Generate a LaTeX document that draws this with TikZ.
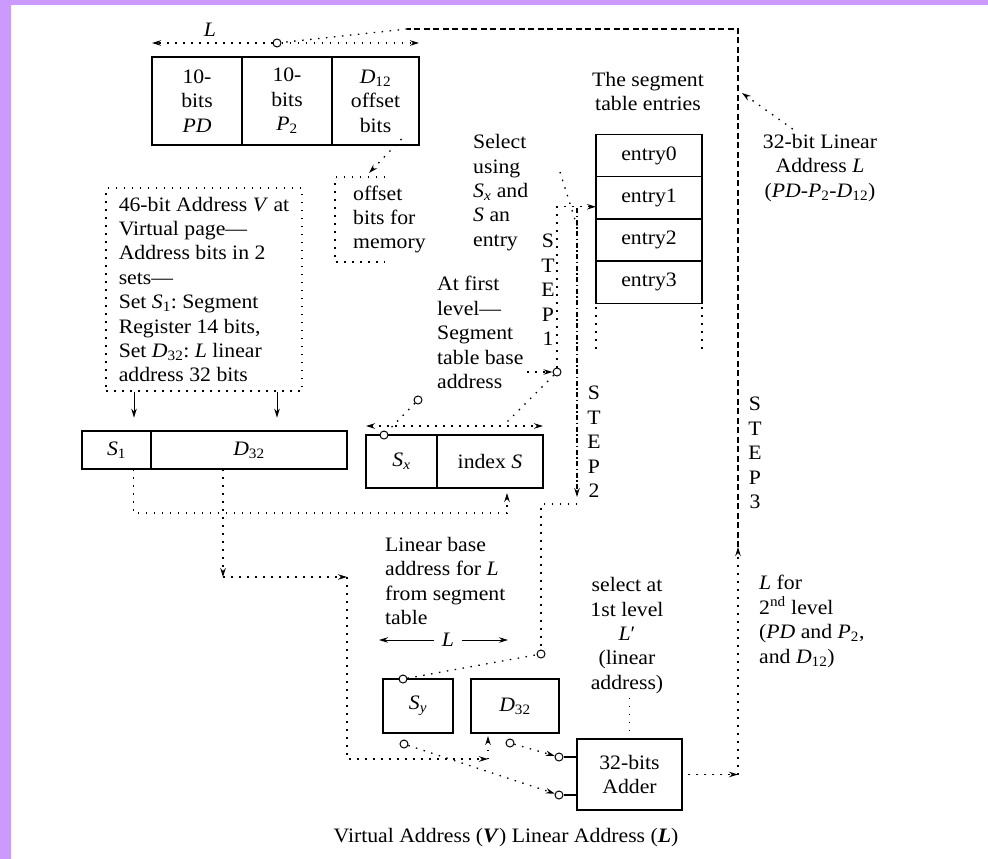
\documentclass[tikz,border=0pt]{standalone}
\usepackage{fontspec}
\setmainfont[FakeStretch=1.06]{Liberation Serif}
\usetikzlibrary{arrows.meta,positioning}
\definecolor{framepurple}{HTML}{CC99FF}
\newcommand\vsub[2]{\textit{#1}\textsubscript{#2}}
\frenchspacing
\tikzset{
  cell/.style={draw,line width=1.3pt,inner sep=0pt,outer sep=0pt,align=center},
  txt/.style={inner sep=0pt,align=left,anchor=west},
  ctxt/.style={inner sep=0pt,align=center},
  ring/.style={circle,draw,line width=1pt,fill=white,inner sep=0pt,minimum size=8pt},
  dotline/.style={line width=1.3pt,dash pattern=on 1.5pt off 6.5pt},
  dashline/.style={line width=1.2pt,dash pattern=on 6pt off 3.5pt},
  dashdotline/.style={line width=1.2pt,dash pattern=on 5pt off 2.5pt on 1.5pt off 2.5pt},
  solidarr/.style={line width=1pt,->},
}
\begin{document}
\begin{tikzpicture}[x=1pt,y=-1pt,>={Stealth[length=9pt,width=5.5pt]},
  every node/.style={font=\fontsize{20.5}{24.4}\selectfont\frenchspacing}]
\useasboundingbox (0,0) rectangle (988,859);
\fill[framepurple] (0,0) rectangle (988,5) (0,0) rectangle (11,859);

% linear address L
\node[cell,minimum width=90pt,minimum height=88pt] (pd) at (197,101) {10-\\bits\\\textit{PD}};
\node[cell,minimum width=90pt,minimum height=88pt,right=0pt of pd] (ptwo) {10-\\bits\\\vsub{P}{2}};
\node[cell,minimum width=87pt,minimum height=88pt,right=0pt of ptwo] (dtw) {\vsub{D}{12}\\offset\\bits};
\node (lname) at (210,30) {\textit{L}};
\node[ring] (cl) at (277,43) {};
\coordinate (lw) at (152,43);
\coordinate (le) at (419,43);
\draw[dotline,->] (cl) -- (lw);
\draw[dotline,->] (cl) -- (le);

% offset bits
\node[txt] (offtxt) at (353,219.5) {offset\\bits for\\memory};
\draw[dotline] (385,177) -| (335,262) -- (385,262);
\coordinate (offin) at (369,173);
\draw[dotline,->] ([xshift=26pt,yshift=6pt]dtw.south) -- (offin);

% virtual address V
\node[draw,dotline,inner xsep=11pt,inner ysep=0pt,minimum width=196pt,minimum height=203pt,align=left] (vbox) at (204,289.5)
  {46-bit Address \textit{V} at\\Virtual page---\\Address bits in 2\\sets---\\Set \vsub{S}{1}: Segment\\Register 14 bits,\\Set \vsub{D}{32}: \textit{L} linear\\address 32 bits};
\node[cell,minimum width=69pt,minimum height=38pt] (sone) at (116.5,450) {\vsub{S}{1}};
\node[cell,minimum width=196pt,minimum height=38pt,right=0pt of sone] (dtt) {\vsub{D}{32}};
\draw[solidarr] ([xshift=-70pt]vbox.south) -- ++(0,26);
\draw[solidarr] ([xshift=73pt]vbox.south) -- ++(0,26);

% selector Sx, index S
\node[cell,minimum width=71pt,minimum height=53pt] (sx) at (401.5,461.5) {\vsub{S}{\textit{x}}};
\node[cell,minimum width=106pt,minimum height=53pt,right=0pt of sx] (idx) {index \textit{S}};
\node[ring] (csx) at ([xshift=18pt]sx.north west) {};
\node[ring] (ca) at (418,400) {};
\draw[dotline] (ca) -- (csx);
\coordinate (iw) at ([yshift=9pt]sx.north west);
\coordinate (ie) at ([yshift=9pt]idx.north east);
\draw[dotline,<->] (iw) -- (ie);

% step 1
\node[txt] (atf) at (437,332.5) {At first\\level---\\Segment\\table base\\address};
\node[txt] (sel) at (473,192.5) {Select\\using\\\vsub{S}{\textit{x}} and\\\textit{S} an\\entry};
\node[ctxt] (stepone) at (548,290) {S\\T\\E\\P\\1};
\node[ring] (cone) at (557,372) {};
\coordinate (sa) at (527,372);
\coordinate (ix) at (503,426);
\draw[dotline,->] (sa) -- (cone);
\draw[dotline] (cone) -- (ix);

% segment table
\node[ctxt] (segtitle) at (648,91.5) {The segment\\table entries};
\node[cell,minimum width=106pt,minimum height=42.25pt] (e0) at (649,155.5) {entry0};
\node[cell,minimum width=106pt,minimum height=42.25pt,below=0pt of e0] (e1) {entry1};
\node[cell,minimum width=106pt,minimum height=42.25pt,below=0pt of e1] (e2) {entry2};
\node[cell,minimum width=106pt,minimum height=42.25pt,below=0pt of e2] (e3) {entry3};
\draw[dotline] ([yshift=-4pt]e3.south west) -- ++(0,45);
\draw[dotline] ([yshift=-4pt]e3.south east) -- ++(0,45);
\draw[dotline,->] (cone) |- ([yshift=-9pt]e1.west);

% step 2
\coordinate (sl1) at (560,172);
\coordinate (sl2) at (577,226);
\draw[dotline] (sl1) -- (sl2);
\coordinate (s2t) at (577,208);
\coordinate (s2b) at (577,504);
\draw[dashdotline,->,shorten >=7pt] (s2t) -- (s2b);
\node[ctxt] (steptwo) at (594,442) {S\\T\\E\\P\\2};
\node[ring] (ctwo) at (541,654) {};
\draw[dotline] (s2b) -| (ctwo);

% S1 and D32 paths
\coordinate (k1) at (507,513);
\draw[dotline,->] ([xshift=17pt]sone.south) |- (k1) -- ([xshift=17pt,yshift=-5pt]idx.south);
\coordinate (m1) at (223,577);
\coordinate (m2) at (347,577);
\coordinate (m3) at (488,759);
\draw[dotline,->] ([xshift=-26pt]dtt.south) -- (m1);
\draw[dotline,->] (m1) -- (m2);
\draw[dotline,->] (m2) |- (m3);

% linear base
\node[txt] (lbase) at (385,581) {Linear base\\address for \textit{L}\\from segment\\table};
\node[inner xsep=8pt,inner ysep=0pt] (lspan) at (448,640) {\textit{L}};
\coordinate (lsw) at (379,640);
\coordinate (lse) at (508,640);
\draw[solidarr] (lspan) -- (lsw);
\draw[solidarr] (lspan) -- (lse);
\node[cell,minimum width=70pt,minimum height=54pt] (sy) at (418,706) {\vsub{S}{\textit{y}}};
\node[cell,minimum width=88pt,minimum height=54pt] (dsm) at (515,706) {\vsub{D}{32}};
\draw[dotline,->] (m3) -- ([xshift=-27pt,yshift=-3pt]dsm.south);
\node[ring] (csy) at ([xshift=-15pt]sy.north) {};
\draw[dotline] (csy) -- (ctwo);
\node[ring] (csyb) at (404,744) {};
\node[ring] (cdb) at (510,743) {};

% adder
\node[cell,minimum width=105pt,minimum height=71pt] (adder) at (629.5,774.5) {32-bits\\Adder};
\node[ring] (cinone) at (559,757) {};
\node[ring] (cintwo) at (559,795) {};
\draw[line width=1.2pt] (cinone) -- (cinone -| adder.west);
\draw[line width=1.2pt] (cintwo) -- (cintwo -| adder.west);
\draw[dotline,->] (cdb) -- (cinone);
\draw[dotline,->] (csyb) -- (cintwo);
\node[ctxt] (slt) at (627,635.5) {select at\\1st level\\\textit{L}′\\(linear\\address)};
\draw[dotline] (adder.north) -- (adder.north |- slt.south);

% step 3
\node[ctxt] (lin) at (820,168) {32-bit Linear\\Address \textit{L}\\(\textit{PD}-\vsub{P}{2}-\vsub{D}{12})};
\node[ctxt] (stepthree) at (755,453) {S\\T\\E\\P\\3};
\node[txt] (lfor) at (759,621.5) {\textit{L} for\\2\textsuperscript{nd} level\\(\textit{PD} and \vsub{P}{2},\\and \vsub{D}{12})};
\coordinate (j1) at (407,29);
\coordinate (j2) at (738,29);
\coordinate (j3) at (738,547);
\draw[dotline,->] ([xshift=6pt]adder.east) -- (j3 |- adder.east);
\draw[dotline,->] (j3 |- adder.east) -- (j3);
\draw[dashline] (j3) -- (j2) -- (j1);
\draw[dotline] (j1) -- (cl);
\coordinate (hit) at (742,93);
\draw[dotline,->] ([xshift=30pt,yshift=5pt]lin.north west) -- (hit);

\node (cap) at (506,838) {Virtual Address (\textbf{\textit{V}}) Linear Address (\textbf{\textit{L}})};
\end{tikzpicture}
\end{document}
